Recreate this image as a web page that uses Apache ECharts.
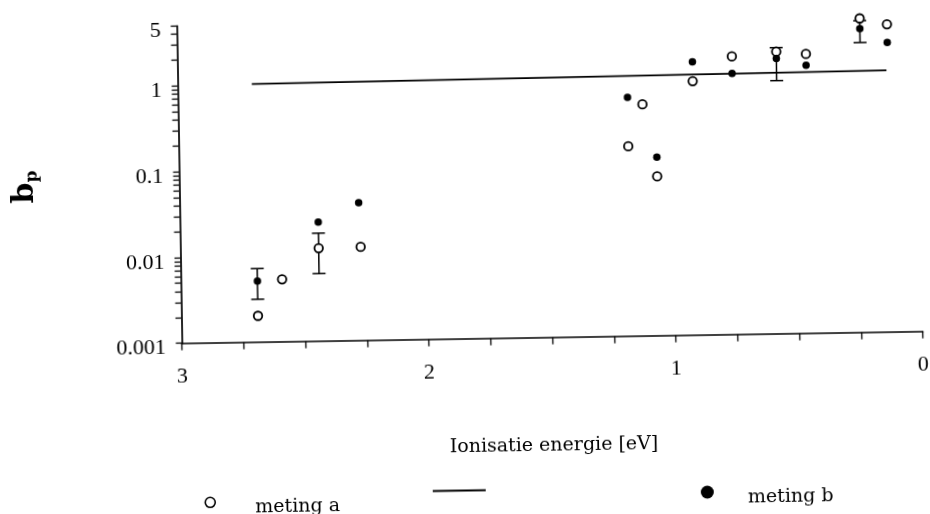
<!DOCTYPE html>
<html>
<head>
<meta charset="utf-8">
<script src="https://cdn.jsdelivr.net/npm/echarts@6/dist/echarts.min.js"></script>
<style>
  html, body { margin: 0; padding: 0; background: #fff; overflow: hidden; }
  /* the printed figure sits slightly askew on the page */
  #chart { width: 930px; height: 514px; transform: rotate(-0.92deg); transform-origin: 465px 257px; }
</style>
</head>
<body>
<div id="chart"></div>
<script>
// Ionisation energy [eV] and b_p, measurement a (open circles)
const aEnergy = [2.69, 2.59, 2.44, 2.27, 1.18, 1.12, 1.065, 0.915, 0.755, 0.575, 0.455, 0.235, 0.125];
const aValue  = [0.00202, 0.00533, 0.0121, 0.0123, 0.163, 0.50, 0.072, 0.91, 1.74, 1.94, 1.80, 4.57, 3.86];

// measurement b (filled circles)
const bEnergy = [2.69, 2.44, 2.275, 1.18, 1.065, 0.915, 0.755, 0.575, 0.455, 0.235, 0.125];
const bValue  = [0.00514, 0.0243, 0.0403, 0.606, 0.120, 1.535, 1.104, 1.61, 1.33, 3.47, 2.36];

// straight reference line
const lineEnergy = [2.7, 0.13];
const lineValue  = [1.02, 1.12];

// error bars: energy, lower and upper bound
const errEnergy = [2.69, 2.44, 0.575, 0.235];
const errLow    = [0.00315, 0.00611, 0.891, 2.39];
const errHigh   = [0.00718, 0.0181, 2.16, 4.3];

// axis ticks and labels
const xLabels = [3, 2, 1, 0];
const yLabels = [0.001, 0.01, 0.1, 1, 5];
const yTicks = [];
[0.001, 0.01, 0.1].forEach(d => { for (let k = 1; k <= 9; k++) yTicks.push(+(d * k).toPrecision(3)); });
[1, 2, 3, 4, 5].forEach(v => yTicks.push(v));

const NUM_FONT = 'Liberation Serif';
const TXT_FONT = 'DejaVu Serif';
const zip = (xs, ys) => xs.map((x, i) => [x, ys[i]]);

// legend label: text sits a little below the marker
const legendText = {
  color: '#000', fontFamily: TXT_FONT, fontSize: 19,
  rich: { t: { color: '#000', fontFamily: TXT_FONT, fontSize: 19, padding: [12, 0, 0, 0] } }
};

const chart = echarts.init(document.getElementById('chart'), null, { renderer: 'canvas' });

chart.setOption({
  animation: false,
  backgroundColor: '#fff',
  grid: { left: 180.5, right: 6.2, top: 21.4, bottom: 175.3 },
  xAxis: {
    type: 'value', min: 0, max: 3, interval: 0.25, inverse: true,
    axisLine: { onZero: false, lineStyle: { color: '#000', width: 1.7 } },
    axisTick: { length: 7, lineStyle: { color: '#000', width: 1.3 } },
    axisLabel: { customValues: xLabels, margin: 23, color: '#000', fontFamily: NUM_FONT, fontSize: 22 },
    splitLine: { show: false },
    name: 'Ionisatie energie [eV]', nameLocation: 'middle', nameGap: 99,
    nameTextStyle: { color: '#000', fontFamily: TXT_FONT, fontSize: 19 }
  },
  yAxis: {
    type: 'log', logBase: 10, min: 0.001, max: 5,
    axisLine: { show: true, onZero: false, lineStyle: { color: '#000', width: 1.7 } },
    axisTick: { show: true, customValues: yTicks, length: 6, lineStyle: { color: '#000', width: 1.3 } },
    axisLabel: {
      customValues: yLabels, margin: 16,
      formatter: v => '{v|' + String(+Number(v).toPrecision(3)) + '}',
      rich: { v: { color: '#000', fontFamily: NUM_FONT, fontSize: 22, padding: [10, 0, 0, 0] } }
    },
    splitLine: { show: false },
    name: '{b|b}{p|p}', nameLocation: 'middle', nameRotate: 90, nameGap: 138,
    nameTextStyle: {
      rich: {
        b: { fontFamily: TXT_FONT, fontWeight: 'bold', fontSize: 30, lineHeight: 32, color: '#000' },
        p: { fontFamily: TXT_FONT, fontWeight: 'bold', fontSize: 17, lineHeight: 10, verticalAlign: 'bottom', color: '#000' }
      }
    }
  },
  legend: [
    {
      data: ['meting a'], left: 200.5, top: 492.5, padding: 0,
      itemWidth: 80, itemHeight: 10,
      itemStyle: { borderWidth: 1.6 },
      formatter: '{t|{name}}',
      textStyle: legendText
    },
    {
      data: ['lijn'], left: 428, top: 485.5, padding: 0,
      itemWidth: 53, itemHeight: 10,
      itemStyle: { opacity: 0 },
      formatter: () => '',
      textStyle: { fontFamily: TXT_FONT, fontSize: 19 }
    },
    {
      data: ['meting b'], left: 697, top: 489.5, padding: 0,
      itemWidth: 71, itemHeight: 13,
      itemStyle: { borderWidth: 0 },
      formatter: '{t|{name}}',
      textStyle: legendText
    }
  ],
  series: [
    {
      name: 'lijn', type: 'line', symbol: 'none', z: 1,
      data: zip(lineEnergy, lineValue),
      itemStyle: { color: '#000' },
      lineStyle: { color: '#000', width: 1.6 }
    },
    {
      name: 'fout', type: 'custom', z: 2,
      data: errEnergy.map((x, i) => [x, errLow[i], errHigh[i]]),
      encode: { x: 0, y: [1, 2] },
      renderItem: (params, api) => {
        const x = api.value(0);
        const lo = api.coord([x, api.value(1)]);
        const hi = api.coord([x, api.value(2)]);
        const w = 6.5;
        const st = { stroke: '#000', lineWidth: 1.5 };
        return {
          type: 'group',
          children: [
            { type: 'line', shape: { x1: lo[0], y1: lo[1], x2: hi[0], y2: hi[1] }, style: st },
            { type: 'line', shape: { x1: lo[0] - w, y1: lo[1], x2: lo[0] + w, y2: lo[1] }, style: st },
            { type: 'line', shape: { x1: hi[0] - w, y1: hi[1], x2: hi[0] + w, y2: hi[1] }, style: st }
          ]
        };
      }
    },
    {
      name: 'meting a', type: 'scatter', symbol: 'circle', symbolSize: 8.5, z: 3,
      data: zip(aEnergy, aValue),
      itemStyle: { color: '#fff', borderColor: '#000', borderWidth: 1.8, opacity: 1 }
    },
    {
      name: 'meting b', type: 'scatter', symbol: 'circle', symbolSize: 7.5, z: 4,
      data: zip(bEnergy, bValue),
      itemStyle: { color: '#000', opacity: 1 }
    }
  ]
});
</script>
</body>
</html>
